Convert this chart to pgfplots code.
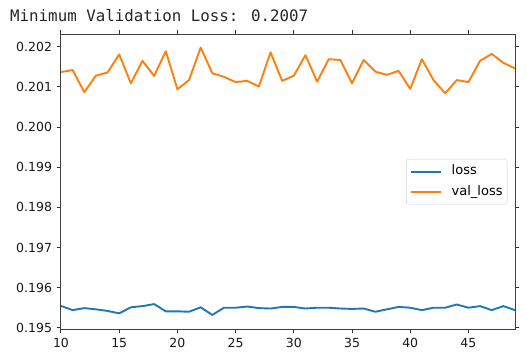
\documentclass[border=0pt]{standalone}
\usepackage{pgfplots}
\pgfplotsset{compat=1.18}
\usepackage{fontspec}
\setmainfont{DejaVu Sans}
\newfontfamily\monofont{DejaVu Sans Mono}
\definecolor{mplblue}{HTML}{1F77B4}
\definecolor{mplorange}{HTML}{FF7F0E}
\begin{document}
\begin{tikzpicture}
\useasboundingbox (-61bp,-33bp) rectangle (466bp,329bp);
\node[anchor=base west, inner sep=0pt, font=\monofont\fontsize{15.8bp}{18bp}\selectfont, text=black!85] at (-51bp,307.3bp) {Minimum Validation Loss: 0.2007};
\begin{axis}[
  at={(0,0)}, anchor=south west,
  scale only axis, width=454bp, height=294.3bp,
  xmin=10, xmax=49, ymin=0.19497, ymax=0.20230,
  xtick={10,15,20,25,30,35,40,45},
  ytick={0.195,0.196,0.197,0.198,0.199,0.200,0.201,0.202},
  scaled y ticks=false,
  y tick label style={/pgf/number format/fixed, /pgf/number format/fixed zerofill, /pgf/number format/precision=3},
  /pgf/number format/assume math mode=true,
  tick align=outside, major tick length=4.4bp,
  tick style={line width=1bp, black!80},
  axis line style={line width=1bp, black!75},
  every tick label/.style={font=\fontsize{12.5bp}{15bp}\selectfont, text=black!90},
  xticklabel style={inner sep=0pt, yshift=-4.4bp, anchor=north},
  yticklabel style={inner sep=0pt, xshift=-4.4bp, anchor=east},
  legend style={at={(rel axis cs:1,0.5)}, anchor=east, xshift=-7.7bp,
    draw=black!18, rounded corners=2.5bp, fill=white, fill opacity=0.8, text opacity=1,
    font=\fontsize{13bp}{15bp}\selectfont, inner xsep=4bp, inner ysep=2.1bp,
    nodes={text height=9bp, text depth=2.5bp, inner ysep=4.55bp, inner xsep=0.5bp}},
  legend cell align=left,
  legend image code/.code={\draw[#1] (0bp,0bp) -- (30bp,0bp); \path (39bp,0bp);},
]
\addplot[mplblue, line width=1.9bp, line join=round] coordinates {
(10,0.195545) (11,0.19544) (12,0.19549) (13,0.19546) (14,0.19542) (15,0.19536)
(16,0.19551) (17,0.19554) (18,0.19559) (19,0.19541) (20,0.19541) (21,0.19540)
(22,0.19551) (23,0.19532) (24,0.19550) (25,0.19550) (26,0.19553) (27,0.19549)
(28,0.19548) (29,0.19552) (30,0.19552) (31,0.19548) (32,0.19550) (33,0.19550)
(34,0.19548) (35,0.19547) (36,0.19548) (37,0.19540) (38,0.19546) (39,0.19552)
(40,0.19550) (41,0.19544) (42,0.19550) (43,0.19550) (44,0.19558) (45,0.19550)
(46,0.19554) (47,0.19544) (48,0.19554) (49,0.19544)
};
\addlegendentry{loss}
\addplot[mplorange, line width=1.9bp, line join=round] coordinates {
(10,0.20137) (11,0.20142) (12,0.20087) (13,0.20128) (14,0.20136) (15,0.20181)
(16,0.20109) (17,0.20165) (18,0.20127) (19,0.20189) (20,0.20094) (21,0.20117)
(22,0.20198) (23,0.20134) (24,0.20125) (25,0.20112) (26,0.20115) (27,0.20101)
(28,0.20186) (29,0.20115) (30,0.20128) (31,0.20179) (32,0.20113) (33,0.20169)
(34,0.20167) (35,0.20109) (36,0.20167) (37,0.20138) (38,0.20130) (39,0.20140)
(40,0.20095) (41,0.20169) (42,0.20117) (43,0.20084) (44,0.20117) (45,0.20112)
(46,0.20165) (47,0.20182) (48,0.20160) (49,0.20146)
};
\addlegendentry{val\_loss}
\end{axis}
\end{tikzpicture}
\end{document}
